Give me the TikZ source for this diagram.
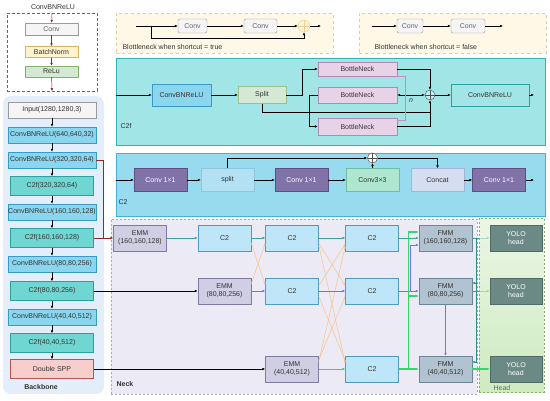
\documentclass[tikz,border=0pt]{standalone}
\usepackage{fontspec}
\setmainfont{Liberation Sans}
\usetikzlibrary{arrows.meta,calc,positioning}

\definecolor{ink}{HTML}{333333}
\definecolor{cbrfill}{HTML}{8AD6EE}
\definecolor{cbrline}{HTML}{3A9AC4}
\definecolor{cffill}{HTML}{70D6D2}
\definecolor{cfline}{HTML}{2AA19E}
\definecolor{grayfill}{HTML}{F5F5F5}
\definecolor{grayline}{HTML}{9A9A9A}
\definecolor{sppfill}{HTML}{F8CECC}
\definecolor{sppline}{HTML}{B85450}
\definecolor{bnfill}{HTML}{FFF2CC}
\definecolor{bnline}{HTML}{D6B656}
\definecolor{relufill}{HTML}{D5E8D4}
\definecolor{reluline}{HTML}{82B366}
\definecolor{darkred}{HTML}{8B2B2B}
\definecolor{bbfill}{HTML}{E3EEFA}
\definecolor{neckfill}{HTML}{ECEAF4}
\definecolor{neckline}{HTML}{A9A9B9}
\definecolor{emmfill}{HTML}{D0CEE2}
\definecolor{emmline}{HTML}{7E7AA2}
\definecolor{ctwofill}{HTML}{BFE6F8}
\definecolor{ctwoline}{HTML}{4B9CC0}
\definecolor{fmmfill}{HTML}{B1C3D0}
\definecolor{fmmline}{HTML}{6C8696}
\definecolor{yolofill}{HTML}{6B8A85}
\definecolor{yololine}{HTML}{506A66}
\definecolor{headtop}{HTML}{E2F3DA}
\definecolor{headbot}{HTML}{B9E2A6}
\definecolor{headline}{HTML}{82B366}
\definecolor{tealc}{HTML}{36A696}
\definecolor{tealdk}{HTML}{2E8F80}
\definecolor{purpc}{HTML}{7B6CF0}
\definecolor{grnc}{HTML}{3AD46C}
\definecolor{orngc}{HTML}{F7C48C}
\definecolor{cfpfill}{HTML}{A2E5E7}
\definecolor{cfpline}{HTML}{2FB5B8}
\definecolor{ctpfill}{HTML}{98DBEF}
\definecolor{ctpline}{HTML}{45B0D6}
\definecolor{bottlefill}{HTML}{E8D2E8}
\definecolor{bottleline}{HTML}{B388B3}
\definecolor{pinkc}{HTML}{C88AC8}
\definecolor{convpfill}{HTML}{8172A8}
\definecolor{convpline}{HTML}{5B4F86}
\definecolor{splitfill}{HTML}{B3E0F3}
\definecolor{splitline}{HTML}{8CC6E0}
\definecolor{cthreefill}{HTML}{AEE6D0}
\definecolor{cthreeline}{HTML}{6CBF9F}
\definecolor{catfill}{HTML}{D5DDF1}
\definecolor{catline}{HTML}{A5B4D6}
\definecolor{yelfill}{HTML}{FFF8E7}
\definecolor{yelline}{HTML}{E3CD95}

\pgfdeclarelayer{bg}
\pgfdeclarelayer{wire}
\pgfdeclarelayer{shade}
\pgfsetlayers{bg,wire,shade,main}

\begin{document}
\begin{tikzpicture}[
  x=1pt, y=-1pt,
  font=\fontsize{7}{8.3}\selectfont,
  text=ink,
  box/.style={draw, inner sep=0pt, align=center},
  gbox/.style={box, fill=grayfill, draw=grayline},
  cbr/.style={box, fill=cbrfill, draw=cbrline, minimum width=88, minimum height=16},
  cf/.style={box, fill=cffill, draw=cfline, minimum width=83, minimum height=19},
  nbox/.style={box, minimum width=53, minimum height=26},
  emm/.style={nbox, fill=emmfill, draw=emmline},
  ctwo/.style={nbox, fill=ctwofill, draw=ctwoline},
  fmm/.style={nbox, fill=fmmfill, draw=fmmline},
  yolo/.style={nbox, minimum width=52, fill=yolofill, draw=yololine, text=white},
  conv/.style={box, rounded corners=1.5pt, fill=grayfill, draw=grayline,
               text=black!60, minimum height=14},
  bneck/.style={box, fill=bottlefill, draw=bottleline, minimum width=79},
  convp/.style={box, fill=convpfill, draw=convpline, text=white,
                minimum width=53, minimum height=23},
  c2box/.style={box, minimum width=53, minimum height=23},
  panel/.style={draw, inner sep=0pt},
  oplus/.style={draw=#1, circle, minimum size=10, inner sep=0pt,
    path picture={\draw[#1] (path picture bounding box.north) -- (path picture bounding box.south)
      (path picture bounding box.west) -- (path picture bounding box.east);}},
  oplus/.default=black!70,
  arr/.style={-{Latex[length=3pt,width=2.6pt]}, line width=.5pt},
  orng/.style={draw=orngc, line width=.5pt, -{Latex[length=2.5pt,width=2pt]}},
]
\useasboundingbox (0,0) rectangle (550,401);

\node (cbrTitle) at (53,7) {ConvBNReLU};
\node[panel, densely dashed, draw=black!60, minimum width=90, minimum height=78] (cbrFrame) at (52,52) {};
\node[gbox, minimum width=53, minimum height=12, text=black!60] (cbrConv) at (51.5,29) {Conv};
\node[box, fill=bnfill, draw=bnline, minimum width=53, minimum height=11] (cbrBn) at (51.5,52) {BatchNorm};
\node[box, fill=relufill, draw=reluline, minimum width=53, minimum height=11] (cbrRelu) at (51.5,71.5) {ReLu};
\draw[arr, darkred] (cbrFrame.north) -- (cbrConv);
\draw[arr, darkred] (cbrConv) -- (cbrBn);
\draw[arr, darkred] (cbrBn) -- (cbrRelu);
\draw[arr, darkred] (cbrRelu) -- (cbrFrame.south);

\node[panel, draw=none, fill=bbfill, rounded corners=8pt, minimum width=101, minimum height=298] (bbFrame) at (53.5,245) {};
\node[font=\fontsize{7}{8}\selectfont\bfseries] (bbLabel) at (41,387) {Backbone};
\node[gbox, minimum width=88, minimum height=16] (inp) at (52,110) {Input(1280,1280,3)};
\node[cbr] (cbr1) at (52,135) {ConvBNReLU(640,640,32)};
\node[cbr] (cbr2) at (52,160) {ConvBNReLU(320,320,64)};
\node[cf] (c2fa) at (52,186) {C2f(320,320,64)};
\node[cbr] (cbr3) at (52,212) {ConvBNReLU(160,160,128)};
\node[cf] (c2fb) at (52,238) {C2f(160,160,128)};
\node[cbr] (cbr4) at (52,264) {ConvBNReLU(80,80,256)};
\node[cf] (c2fc) at (52,291) {C2f(80,80,256)};
\node[cbr] (cbr5) at (52,317) {ConvBNReLU(40,40,512)};
\node[cf] (c2fd) at (52,343) {C2f(40,40,512)};
\node[cf, fill=sppfill, draw=sppline] (spp) at (52,369) {Double SPP};
\draw[arr] (inp) -- (cbr1);
\draw[arr] (cbr1) -- (cbr2);
\draw[arr] (cbr2) -- (c2fa);
\draw[arr] (c2fa) -- (cbr3);
\draw[arr] (cbr3) -- (c2fb);
\draw[arr] (c2fb) -- (cbr4);
\draw[arr] (cbr4) -- (c2fc);
\draw[arr] (c2fc) -- (cbr5);
\draw[arr] (cbr5) -- (c2fd);
\draw[arr] (c2fd) -- (spp);

% bottleneck panels
\node[panel, dashed, fill=yelfill, draw=yelline, minimum width=217, minimum height=40] (stFrame) at (224.5,33) {};
\node[panel, dashed, fill=yelfill, draw=yelline, minimum width=187, minimum height=40] (sfFrame) at (452.5,33) {};
\coordinate (stIn) at (136,26);
\coordinate (stFork) at (151,26);
\node[conv, minimum width=29] (stConv1) at (192.5,26) {Conv};
\node[conv, minimum width=33] (stConv2) at (260.5,26) {Conv};
\node[oplus=bnline!60, minimum size=12, fill=bnfill] (stAdd) at (304,26) {};
\coordinate (stOut) at (321,26);
\draw[arr] (stIn) -- (stConv1);
\draw[arr] (stConv1) -- (stConv2);
\draw[arr] (stConv2) -- (stAdd);
\draw[arr] (stAdd) -- (stOut);
\draw[arr] (stFork) -- ++(0,12) -| (stAdd.south);
\node[anchor=west] (stLabel) at (119,47) {Blottleneck when shortcut = true};
\coordinate (sfIn) at (372,26);
\node[conv, minimum width=26] (sfConv1) at (410,26) {Conv};
\node[conv, minimum width=34] (sfConv2) at (468,26) {Conv};
\coordinate (sfOut) at (503,26);
\draw[arr] (sfIn) -- (sfConv1);
\draw[arr] (sfConv1) -- (sfConv2);
\draw[arr] (sfConv2) -- (sfOut);
\node[anchor=west] (sfLabel) at (371,47) {Blottleneck when shortcut = false};

% C2f
\node[panel, fill=cfpfill, draw=cfpline, line width=.8pt, minimum width=429, minimum height=87] (cfFrame) at (330.5,101.5) {};
\node (cfLabel) at (126,126) {C2f};
\node[box, fill=cbrfill, draw=cbrline, minimum width=59, minimum height=22] (cfCbr) at (181.5,95) {ConvBNReLU};
\node[box, fill=relufill, draw=reluline!80, minimum width=48, minimum height=17] (cfSplit) at (262,95) {Split};
\node[bneck, minimum height=14] (cfBn1) at (357.5,69) {BottleNeck};
\node[bneck, minimum height=16] (cfBn2) at (357.5,95) {BottleNeck};
\node[bneck, minimum height=17] (cfBn3) at (357.5,126.5) {BottleNeck};
\node[oplus, fill=cfpfill!60!white] (cfAdd) at (430,95) {};
\node[box, fill=cfpfill, draw=cfline, minimum width=78, minimum height=22] (cfCbr2) at (490,95) {ConvBNReLU};
\coordinate (cfJoin) at (430,112);
\coordinate (cfOut) at (534,95);
\draw[arr] (cfFrame.west |- cfCbr) -- (cfCbr);
\draw[arr] (cfCbr) -- (cfSplit);
\draw[arr] (cfSplit.east) -- ++(16,0) |- (cfBn1.west);
\draw[arr] (cfBn2.west) -- ++(-9,0) |- (cfBn3.west);
\draw[line width=.5pt] (cfSplit.south) |- (cfJoin);
\draw[arr] (cfBn1.east) -| (cfAdd.north);
\draw[arr] (cfBn3.east) -| (cfAdd.south);
\draw[{Latex[length=3pt,width=2.6pt]}-{Latex[length=3pt,width=2.6pt]}, line width=.5pt] (cfBn2.east) -- (cfAdd.west);
\draw[arr] (cfAdd) -- (cfCbr2);
\draw[arr] (cfCbr2) -- (cfOut);
\draw[pinkc, line width=.7pt] (cfBn1.south east) -- ++(8,0) |- ($(cfBn3.north east)+(0,3)$);
\node[font=\fontsize{7}{8}\selectfont\itshape] (cfN) at (411,101) {n};

% C2
\node[panel, fill=ctpfill, draw=ctpline, line width=.8pt, minimum width=429, minimum height=63] (ctFrame) at (330.5,184.5) {};
\node (ctLabel) at (123,202) {C2};
\node[convp] (ctConv1) at (160.5,180) {Conv 1×1};
\node[c2box, fill=splitfill, draw=splitline] (ctSplit) at (227.5,180) {split};
\node[convp] (ctConv2) at (301.5,180) {Conv 1×1};
\node[c2box, fill=cthreefill, draw=cthreeline] (ctConv33) at (372.5,180) {Conv3×3};
\node[c2box, fill=catfill, draw=catline] (ctCat) at (437.5,180) {Concat};
\node[convp] (ctConv3) at (499,180) {Conv 1×1};
\node[oplus, fill=white] (ctAdd) at (372.5,158) {};
\coordinate (ctOut) at (534,180);
\draw[arr] (ctFrame.west |- ctConv1) -- (ctConv1);
\draw[arr] (ctConv1) -- (ctSplit);
\draw[arr] (ctSplit) -- (ctConv2);
\draw[arr] (ctConv2) -- (ctConv33);
\draw[arr] (ctConv33) -- (ctAdd);
\draw[arr] (ctSplit.north) |- (ctAdd.west);
\draw[arr] (ctAdd.east) -| (ctCat.north);
\draw[arr] (ctCat) -- (ctConv3);
\draw[arr] (ctConv3) -- (ctOut);

% neck
\begin{pgfonlayer}{bg}
\node[panel, dash pattern=on 2pt off 2pt, fill=neckfill, draw=neckline, line width=.7pt, minimum width=366, minimum height=175] (neckFrame) at (294,306.5) {};
\end{pgfonlayer}
\node[font=\fontsize{7}{8}\selectfont\bfseries] (neckLabel) at (125,384) {Neck};
\node[emm] (emm160) at (140,238) {EMM\\(160,160,128)};
\node[ctwo] (c2L) at (224.5,238) {C2};
\node[emm] (emm80) at (224.5,291) {EMM\\(80,80,256)};
\node[ctwo] (c2Ma) at (292,238) {C2};
\node[ctwo] (c2Mb) at (292,291) {C2};
\node[emm] (emm40) at (292,369) {EMM\\(40,40,512)};
\node[ctwo] (c2Ra) at (372,238) {C2};
\node[ctwo] (c2Rb) at (372,291) {C2};
\node[ctwo] (c2Rc) at (372,369) {C2};
\node[fmm] (fmm160) at (445.5,238) {FMM\\(160,160,128)};
\node[fmm] (fmm80) at (445.5,291) {FMM\\(80,80,256)};
\node[fmm] (fmm40) at (445.5,369) {FMM\\(40,40,512)};

\draw[darkred, line width=.7pt] (cbr2.east) -| (103,238);
\draw[arr, darkred, line width=.7pt] (c2fb.east) -- (emm160.west);
\draw[arr, line width=.7pt] (c2fc.east) -- (emm80.west);
\draw[arr, line width=.7pt] (spp.east) -- (emm40.west);

\draw[orng] ($(c2L.east)+(0,5)$) -- ($(c2Mb.west)+(0,-6)$);
\draw[orng] ($(emm80.east)+(0,-7)$) -- ($(c2Ma.west)+(0,5)$);
\draw[orng] ($(c2Ma.east)+(0,5)$) -- ($(c2Rb.west)+(0,-5)$);
\draw[orng] ($(c2Ma.east)+(0,7)$) -- ($(c2Rc.west)+(0,-6)$);
\draw[orng] ($(c2Mb.east)+(0,-5)$) -- ($(c2Ra.west)+(0,6)$);
\draw[orng] ($(c2Mb.east)+(0,5)$) -- ($(c2Rc.west)+(0,-8)$);
\draw[orng] ($(emm40.east)+(0,-7)$) -- ($(c2Ra.west)+(0,8)$);
\draw[orng] ($(emm40.east)+(0,-9)$) -- ($(c2Rb.west)+(0,5)$);

\draw[arr, tealc, line width=.8pt] (emm160) -- (c2L);
\draw[arr, tealc, line width=.8pt] (c2L) -- (c2Ma);
\draw[arr, tealc, line width=.8pt] (c2Ma) -- (c2Ra);
\draw[arr, tealc, line width=.8pt] (c2Ra) -- (fmm160);
\draw[arr, purpc, line width=.8pt] (emm80) -- (c2Mb);
\draw[arr, purpc, line width=.8pt] (c2Mb) -- (c2Rb);
\draw[arr, purpc, line width=.8pt] (c2Rb) -- (fmm80);
\draw[arr, purpc, line width=.8pt] ($(c2Rb.east)+(12,0)$) |- ($(fmm160.west)+(0,7)$);
\draw[arr, purpc, line width=.8pt] (fmm80) -- (fmm40);
\draw[arr, grnc, line width=.8pt] (emm40) -- (c2Rc);
\draw[arr, grnc, line width=1.3pt] (c2Rc) -- (fmm40);
\draw[arr, grnc, line width=1.3pt] ($(c2Rc.east)+(10,0)$) |- ($(fmm160.west)+(0,-6)$);
\draw[arr, grnc, line width=1.3pt] ($(c2Rc.east)+(10,0)$) |- ($(fmm80.west)+(0,5)$);

% head
\begin{pgfonlayer}{shade}
\node[panel, dash pattern=on 2pt off 2pt, top color=headtop, bottom color=headbot, draw=headline, fill opacity=.7, minimum width=65, minimum height=174] (headFrame) at (511.5,305.5) {};
\end{pgfonlayer}
\node[text=black!60] (headLabel) at (502,388) {Head};
\node[yolo] (yolo1) at (516,238) {YOLO\\head};
\node[yolo] (yolo2) at (516,291) {YOLO\\head};
\node[yolo] (yolo3) at (516,369) {YOLO\\head};
\begin{pgfonlayer}{wire}
\draw[arr, tealc, line width=.8pt] (fmm160) -- (yolo1);
\draw[arr, purpc, line width=.8pt] (fmm80) -- (yolo2);
\end{pgfonlayer}
\draw[arr, grnc, line width=1.3pt] (fmm40) -- (yolo3);
\coordinate (headTap) at (476,238);
\draw[arr, tealdk, line width=.8pt] (headTap) |- ($(fmm80.east)+(0,-8)$);
\draw[arr, tealdk, line width=.8pt] (headTap) |- ($(fmm40.east)+(0,-7)$);
\end{tikzpicture}
\end{document}
